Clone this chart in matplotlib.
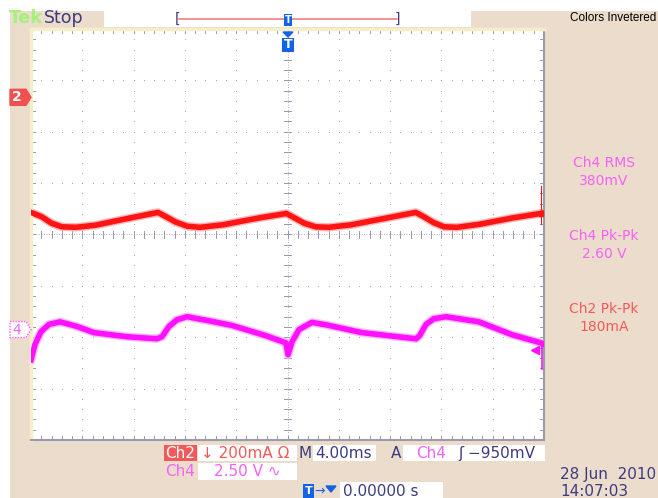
import matplotlib.pyplot as plt
from matplotlib.patches import Rectangle, Polygon
from matplotlib.transforms import blended_transform_factory

W, H = 658, 498

# Ch2 (current) trace: time in ms, screen position in divisions
ch2_t = [-20.0, -19.2, -18.4, -17.6, -16.5, -15.0, -12.5, -10.1, -9.5, -8.7, -7.8,
         -6.8, -5.0, -2.5, -0.1, 0.5, 1.3, 2.2, 3.2, 5.0, 7.5, 10.0, 10.6, 11.4,
         12.2, 13.2, 15.0, 17.5, 20.0]
ch2_v = [0.43, 0.35, 0.22, 0.15, 0.14, 0.18, 0.31, 0.43, 0.35, 0.24, 0.16,
         0.14, 0.19, 0.31, 0.41, 0.33, 0.22, 0.15, 0.14, 0.19, 0.31, 0.43, 0.35, 0.23,
         0.15, 0.14, 0.20, 0.32, 0.42]

# Ch4 (voltage) trace
ch4_t = [-20.0, -19.69, -19.22, -18.6, -17.74, -16.41, -15.09, -12.5, -10.18, -9.79,
         -9.24, -8.62, -7.84, -6.12, -4.33, -1.68, -0.12, 0.04, 0.35, 0.9, 1.91,
         3.24, 5.81, 10.02, 10.3, 10.8, 11.4, 12.36, 14.93, 17.5, 19.77, 20.0]
ch4_v = [-2.44, -2.14, -1.89, -1.75, -1.70, -1.79, -1.91, -1.99, -2.03, -1.99,
         -1.79, -1.66, -1.60, -1.68, -1.77, -1.97, -2.11, -2.34, -2.09, -1.85, -1.71,
         -1.77, -1.91, -2.03, -1.97, -1.75, -1.64, -1.60, -1.70, -1.95, -2.11, -2.14]

ch2_ground = 2.67
ch4_ground = -1.85
trig_level = -2.25

meas_title = ['Ch4 RMS', 'Ch4 Pk-Pk', 'Ch2 Pk-Pk']
meas_value = ['380mV', '2.60 V', '180mA']

BEIGE = '#ecdccc'
NAVY = '#3c3c80'
RED = '#ff1414'
MAG = '#ff10ff'
RED_TXT = '#f25a5a'
MAG_TXT = '#f562f5'
GRID = '#9898b4'
BLUE = '#1463e6'


def fx(x):
    return x / W


def fy(y):
    return 1 - y / H


def rect(x0, y0, x1, y1, fc, ec='none', lw=0, z=0):
    fig.add_artist(Rectangle((fx(x0), fy(y1)), (x1 - x0) / W, (y1 - y0) / H,
                             transform=fig.transFigure, facecolor=fc,
                             edgecolor=ec, lw=lw, zorder=z))


def label(x, y, s, color, size=11, ha='left', weight='normal', family='DejaVu Sans'):
    fig.text(fx(x), fy(y), s, color=color, fontsize=size, ha=ha, va='center',
             fontweight=weight, family=family, zorder=5)


fig = plt.figure(figsize=(W / 100, H / 100), dpi=100, facecolor='white')
rect(10, 11, W, H, BEIGE, z=-2)

# graticule
ax = fig.add_axes([fx(31), fy(440), 513 / W, 411 / H])
ax.set_xlim(-20, 20)
ax.set_ylim(-4, 4)
ax.set_facecolor('white')
ax.set_xticks([])
ax.set_yticks([])
for side in ['top', 'left']:
    ax.spines[side].set_color('#f6eec8')
    ax.spines[side].set_linewidth(2.5)
for side in ['bottom', 'right']:
    ax.spines[side].set_color('#9a9aaa')
    ax.spines[side].set_linewidth(1.5)

minor_y = [i * 0.2 for i in range(-20, 21)]
minor_t = [i * 0.8 for i in range(-25, 26)]
for tk in range(-16, 17, 4):
    if tk == 0:
        continue
    ax.scatter([tk] * len(minor_y), minor_y, s=0.6, color=GRID, lw=0, zorder=1)
for vk in range(-3, 4):
    if vk == 0:
        continue
    ax.scatter(minor_t, [vk] * len(minor_t), s=0.6, color=GRID, lw=0, zorder=1)

# centre lines with minor ticks
ax.axhline(0, color=GRID, lw=0.6, ls=(0, (1, 2)), zorder=1)
ax.axvline(0, color=GRID, lw=0.6, ls=(0, (1, 2)), zorder=1)
for tt in minor_t:
    ax.plot([tt, tt], [-0.07, 0.07], color=GRID, lw=0.7, zorder=1)
    ax.plot([tt, tt], [3.92, 4.0], color=GRID, lw=0.7, zorder=1)
    ax.plot([tt, tt], [-4.0, -3.92], color=GRID, lw=0.7, zorder=1)
for vv in minor_y:
    ax.plot([-0.28, 0.28], [vv, vv], color=GRID, lw=0.7, zorder=1)
    ax.plot([-20, -19.7], [vv, vv], color=GRID, lw=0.7, zorder=1)
    ax.plot([19.7, 20], [vv, vv], color=GRID, lw=0.7, zorder=1)

# traces
for t, v, halo, col in [(ch2_t, ch2_v, '#ffb4b4', RED), (ch4_t, ch4_v, '#ffb8ff', MAG)]:
    ax.plot(t, v, color=halo, lw=6.0, solid_joinstyle='round', zorder=2)
    ax.plot(t, v, color=col, lw=4.0, solid_joinstyle='round', zorder=3)

# right edge markers
ax.plot([19.8, 19.8], [0.2, 0.95], color=RED, lw=0.8, zorder=4)
ax.plot([19.8], [0.39], marker='s', ms=3, color=RED, zorder=4)
ax.plot([19.85, 19.85], [-2.13, -2.62], color=MAG, lw=1.2, zorder=4)
ax.plot([19.3], [trig_level], marker='<', ms=6, color=MAG, zorder=4)

# channel ground markers on the left
bt = blended_transform_factory(fig.transFigure, ax.transData)
dv = 8 * 8 / 411
fig.add_artist(Polygon([(fx(10), ch2_ground + dv), (fx(26), ch2_ground + dv),
                        (fx(31), ch2_ground), (fx(26), ch2_ground - dv),
                        (fx(10), ch2_ground - dv)], closed=True, transform=bt,
                       facecolor='#f05050', edgecolor='#f05050', zorder=4))
fig.text(fx(17), ch2_ground, '2', transform=bt, color='white', fontsize=10,
         ha='center', va='center', fontweight='bold', zorder=5)
fig.add_artist(Polygon([(fx(10), ch4_ground + dv), (fx(26), ch4_ground + dv),
                        (fx(31), ch4_ground), (fx(26), ch4_ground - dv),
                        (fx(10), ch4_ground - dv)], closed=True, transform=bt,
                       facecolor='white', edgecolor=MAG_TXT, lw=1, ls=(0, (1, 1)),
                       zorder=4))
fig.text(fx(17), ch4_ground, '4', transform=bt, color=MAG_TXT, fontsize=10,
         ha='center', va='center', zorder=5)

# header
label(9, 18, 'Tek', '#a6f07c', size=13, weight='bold')
label(44, 18, 'Stop', NAVY, size=12.5)
rect(104, 11, 471, 27, 'white')
fig.add_artist(plt.Line2D([fx(179), fx(397)], [fy(19), fy(19)], color='#f08080',
                          lw=1.2, transform=fig.transFigure, zorder=3))
label(178, 19, '[', NAVY, size=10, ha='center')
label(397, 19, ']', NAVY, size=10, ha='center')
rect(284, 14, 292, 26, BLUE, z=4)
label(288, 20, 'T', 'white', size=7, ha='center', weight='bold')
fig.add_artist(Polygon([(fx(283), fy(32)), (fx(293), fy(32)), (fx(288), fy(37))],
                       closed=True, transform=fig.transFigure, color=BLUE, zorder=4))
rect(282, 38, 294, 52, BLUE, z=4)
label(288, 45, 'T', 'white', size=9, ha='center', weight='bold')
label(656, 18, 'Colors Invetered', 'black', size=8.5, ha='right',
      family='Liberation Sans')

# measurements
for i in range(3):
    col = RED_TXT if meas_title[i].startswith('Ch2') else MAG_TXT
    label(604, 163 + 73 * i, meas_title[i], col, size=10, ha='center')
    label(604, 181 + 73 * i, meas_value[i], col, size=10, ha='center')

# bottom readouts
rect(164, 445, 197, 461, '#f05a5a')
label(180.5, 453, 'Ch2', 'white', size=11, ha='center')
rect(198, 445, 297, 461, 'white')
label(201, 453, '\u2193 200mA \u03a9', RED_TXT, size=11)
label(299, 453, 'M', NAVY, size=11)
rect(313, 445, 376, 461, 'white')
label(315, 453, '4.00ms', NAVY, size=11)
label(391, 453, 'A', NAVY, size=11)
rect(403, 445, 545, 461, 'white')
label(416, 453, 'Ch4', MAG_TXT, size=11)
label(458, 453, '\u0283 \u2212950mV', NAVY, size=11)
label(165, 471, 'Ch4', MAG_TXT, size=11)
rect(198, 463, 297, 480, 'white')
label(214, 471, '2.50 V \u223f', MAG_TXT, size=11)
label(560, 474, '28 Jun  2010', NAVY, size=11)
label(560, 491, '14:07:03', NAVY, size=11)
rect(303, 484, 314, 498, BLUE)
label(308.5, 491, 'T', 'white', size=8, ha='center', weight='bold')
label(314, 491, '\u2192', BLUE, size=9)
fig.add_artist(Polygon([(fx(326), fy(486)), (fx(336), fy(486)), (fx(331), fy(492))],
                       closed=True, transform=fig.transFigure, color=BLUE, zorder=4))
rect(340, 482, 443, 498, 'white')
label(343, 491, '0.00000 s', NAVY, size=11)

fig.savefig('out.png', dpi=100, facecolor=fig.get_facecolor())
